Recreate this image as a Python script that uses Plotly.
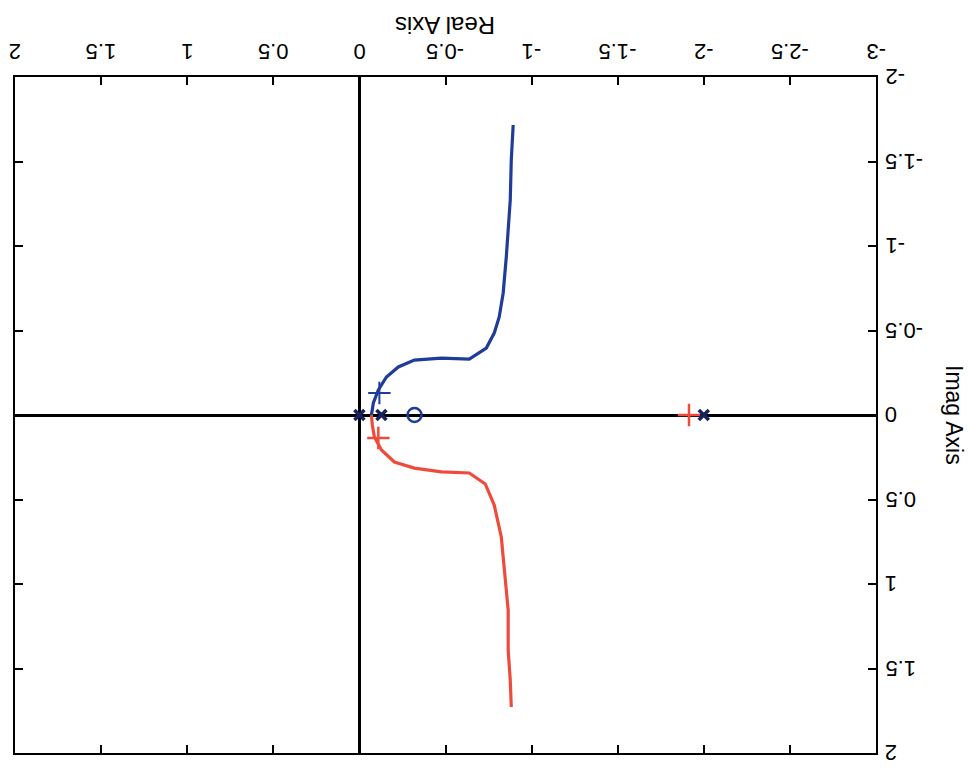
import plotly.graph_objects as go

# Root locus branches (real, imag)
blue_re = [-0.070, -0.081, -0.110, -0.157, -0.226, -0.319, -0.476, -0.638, -0.737, -0.783,
           -0.812, -0.835, -0.853, -0.864, -0.876, -0.882, -0.893]
blue_im = [0.0, -0.071, -0.148, -0.225, -0.284, -0.325, -0.337, -0.331, -0.396, -0.485,
           -0.580, -0.722, -0.935, -1.136, -1.272, -1.509, -1.716]
red_re = [-0.070, -0.075, -0.087, -0.128, -0.203, -0.319, -0.476, -0.638, -0.731, -0.783,
          -0.824, -0.841, -0.864, -0.864, -0.876, -0.882]
red_im = [0.0, 0.059, 0.130, 0.207, 0.278, 0.314, 0.337, 0.343, 0.408, 0.533,
          0.722, 0.899, 1.154, 1.391, 1.568, 1.728]

# Poles / zeros / closed-loop markers
pole_re = [0.0, -0.128, -2.0]
pole_im = [0.0, 0.0, 0.0]
zero_re = [-0.32]
zero_im = [0.0]
blue_plus_re = [-0.116]
blue_plus_im = [-0.13]
red_plus_re = [-0.11, -1.914]
red_plus_im = [0.136, 0.0]

x_ticks = [2, 1.5, 1, 0.5, 0, -0.5, -1, -1.5, -2, -2.5, -3]
x_tick_text = [str(v) for v in x_ticks]
y_ticks = [-2, -1.5, -1, -0.5, 0, 0.5, 1, 1.5, 2]
y_tick_text = [str(v) for v in y_ticks]

BLUE = "#1e3c98"
RED = "#ef4b3c"
NAVY = "#16235e"
FAM = "Liberation Sans, Arial, sans-serif"

fig = go.Figure()
fig.add_trace(go.Scatter(x=blue_re, y=blue_im, mode="lines",
                         line=dict(color=BLUE, width=3.2), showlegend=False))
fig.add_trace(go.Scatter(x=red_re, y=red_im, mode="lines",
                         line=dict(color=RED, width=3.2), showlegend=False))
fig.add_trace(go.Scatter(x=pole_re, y=pole_im, mode="markers",
                         marker=dict(symbol="x-thin", size=10, color=BLUE,
                                     line=dict(width=3.5, color=NAVY)), showlegend=False))
fig.add_trace(go.Scatter(x=zero_re, y=zero_im, mode="markers",
                         marker=dict(symbol="circle-open", size=14, color=BLUE,
                                     line=dict(width=2.5, color=BLUE)), showlegend=False))
fig.add_trace(go.Scatter(x=blue_plus_re, y=blue_plus_im, mode="markers",
                         marker=dict(symbol="cross-thin", size=16, color=RED,
                                     line=dict(width=2, color=BLUE)), showlegend=False))
fig.add_trace(go.Scatter(x=red_plus_re, y=red_plus_im, mode="markers",
                         marker=dict(symbol="cross-thin", size=16, color=RED,
                                     line=dict(width=2.5, color=RED)), showlegend=False))

annotations = [
    dict(text="Real Axis", xref="paper", yref="paper", x=0.5, y=1.0, yshift=51,
         yanchor="middle", showarrow=False, textangle=180,
         font=dict(size=24, color="black", family=FAM)),
    dict(text="Imag Axis", xref="paper", yref="paper", x=1.0, y=0.5, xshift=78,
         xanchor="center", showarrow=False, textangle=90,
         font=dict(size=23, color="black", family=FAM)),
]
for v, t in zip(x_ticks, x_tick_text):
    annotations.append(dict(text=t, xref="x", yref="paper", x=v, y=1.0, yshift=25,
                            xanchor="center", yanchor="middle", showarrow=False,
                            textangle=180, font=dict(size=22, color="black", family=FAM)))
for v, t in zip(y_ticks, y_tick_text):
    annotations.append(dict(text=t, xref="paper", yref="y", x=1.0, y=v, xshift=7,
                            xanchor="left", yanchor="middle", showarrow=False,
                            textangle=180, font=dict(size=22, color="black", family=FAM)))

fig.update_layout(
    width=971, height=771,
    margin=dict(l=15, r=95, t=77, b=18),
    paper_bgcolor="white", plot_bgcolor="white",
    font=dict(family=FAM, size=22, color="black"),
    xaxis=dict(range=[2, -3], side="top", tickvals=x_ticks, showticklabels=False,
               automargin=False,
               showgrid=False, zeroline=True, zerolinecolor="black", zerolinewidth=2.5,
               showline=True, linecolor="black", linewidth=2, mirror="ticks",
               ticks="inside", ticklen=8, tickwidth=2, tickcolor="black"),
    yaxis=dict(range=[2, -2], side="right", tickvals=y_ticks, showticklabels=False,
               automargin=False,
               showgrid=False, zeroline=True, zerolinecolor="black", zerolinewidth=2.5,
               showline=True, linecolor="black", linewidth=2, mirror="ticks",
               ticks="inside", ticklen=8, tickwidth=2, tickcolor="black"),
    annotations=annotations,
)

fig.write_html("out.html")
